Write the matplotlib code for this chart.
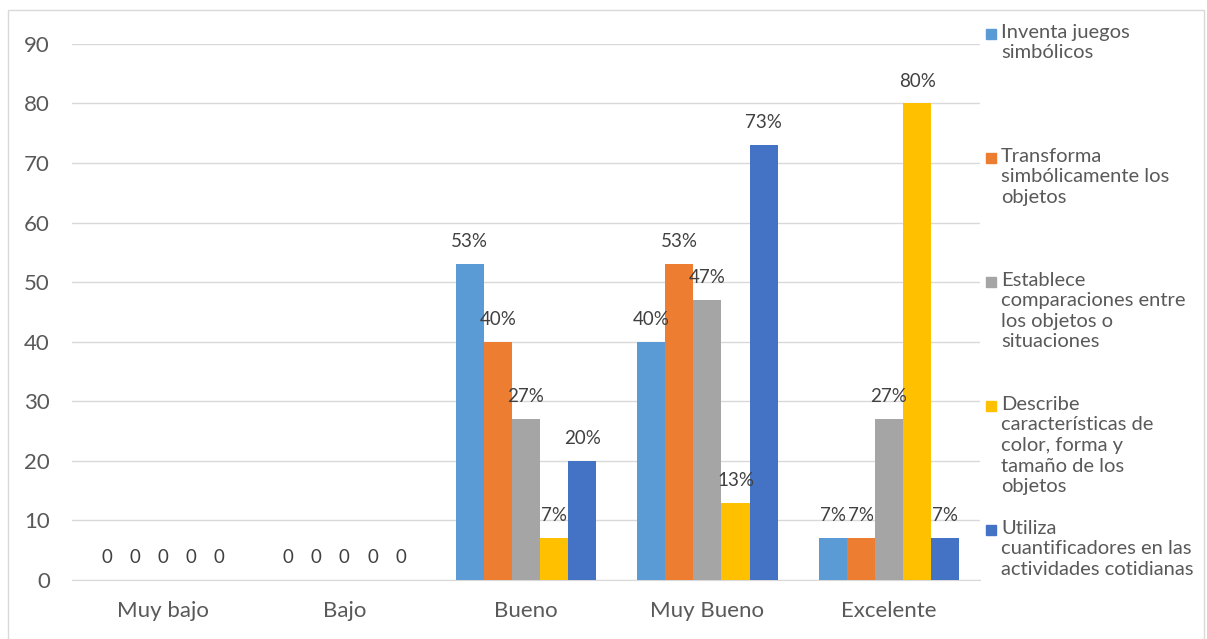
import numpy as np
import matplotlib.pyplot as plt
from matplotlib.patches import Rectangle

plt.rcParams['font.family'] = ['Lato', 'DejaVu Sans']

# Data
categories = ["Muy bajo", "Bajo", "Bueno", "Muy Bueno", "Excelente"]
series = [
    "Inventa juegos\nsimbólicos",
    "Transforma\nsimbólicamente los\nobjetos",
    "Establece\ncomparaciones entre\nlos objetos o\nsituaciones",
    "Describe\ncaracterísticas de\ncolor, forma y\ntamaño de los\nobjetos",
    "Utiliza\ncuantificadores en las\nactividades cotidianas",
]
inventa = [0, 0, 53, 40, 7]
transforma = [0, 0, 40, 53, 7]
establece = [0, 0, 27, 47, 27]
describe = [0, 0, 7, 13, 80]
utiliza = [0, 0, 20, 73, 7]
values = [inventa, transforma, establece, describe, utiliza]
colors = ["#5B9BD5", "#ED7D31", "#A5A5A5", "#FFC000", "#4472C4"]

fig = plt.figure(figsize=(12.07, 6.39), dpi=100)
ax = fig.add_axes([0.0597, 0.0923, 0.752, 0.839])

x = np.arange(len(categories))
w = 0.155
for i, vals in enumerate(values):
    pos = x + (i - 2) * w
    bars = ax.bar(pos, vals, w, color=colors[i], zorder=3)
    for b, v in zip(bars, vals):
        txt = "0" if v == 0 else f"{v}%"
        ax.annotate(txt, (b.get_x() + b.get_width() / 2, v), xytext=(0, 10),
                    textcoords="offset points", ha="center", va="bottom",
                    fontsize=13.5, color="#404040", zorder=4)

ax.set_xlim(-0.5, 4.5)
ax.set_ylim(0, 90)
ax.set_yticks(range(0, 91, 10))
ax.set_xticks(x)
ax.set_xticklabels(categories)
ax.grid(axis="y", color="#D9D9D9", linewidth=1, zorder=0)
for s in ["top", "right", "left"]:
    ax.spines[s].set_visible(False)
ax.spines["bottom"].set_color("#D9D9D9")
ax.tick_params(axis="both", length=0, labelsize=16, colors="#595959")
ax.tick_params(axis="x", pad=15)
ax.tick_params(axis="y", pad=16)

# legend drawn by hand
for i, name in enumerate(series):
    ytop = 1 - (24 + i * 124) / 639
    fig.patches.append(Rectangle((986 / 1207, ytop - 15 / 639), 10 / 1207, 10 / 639,
                                 transform=fig.transFigure, color=colors[i]))
    fig.text(1001 / 1207, ytop, name, va="top", ha="left", fontsize=14.5,
             color="#595959", linespacing=1.25)

# outer border
fig.patches.append(Rectangle((8 / 1207, -0.01), 1196 / 1207, 1 - 10 / 639 + 0.01,
                             transform=fig.transFigure, fill=False,
                             edgecolor="#D9D9D9", linewidth=1))

fig.savefig("out.png", dpi=100)
